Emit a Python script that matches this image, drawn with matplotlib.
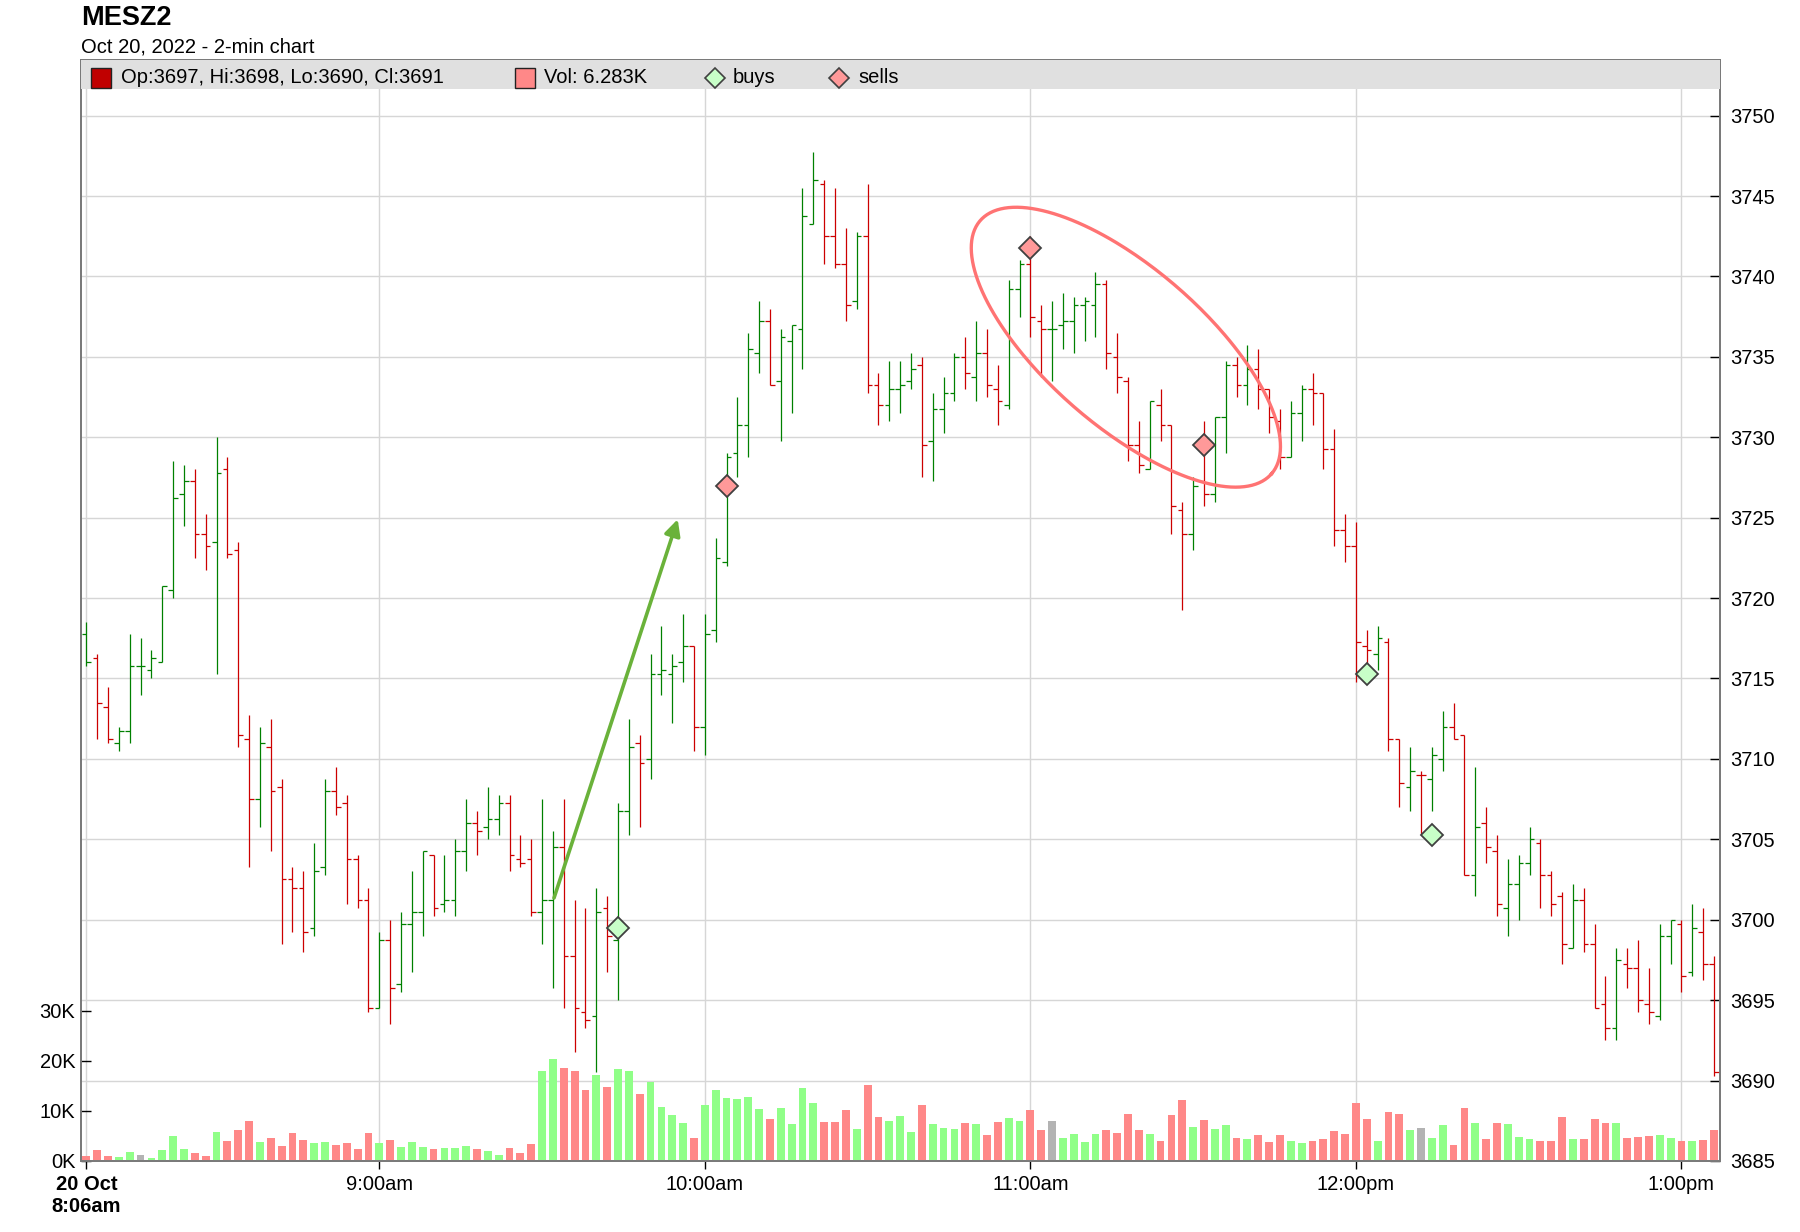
import matplotlib
matplotlib.use("Agg")
import matplotlib.pyplot as plt
from matplotlib.collections import LineCollection
from matplotlib.patches import Rectangle
import numpy as np

plt.rcParams['font.family'] = ['Liberation Sans', 'DejaVu Sans']

# MESZ2, 2-min bars from 8:06am (index 0) to 1:06pm (index 150)
opens = [3717.75, 3716.25, 3713.25, 3711.0, 3711.75, 3715.75, 3715.5, 3716.0, 3720.5, 3726.5,
         3727.25, 3724.0, 3723.5, 3728.0, 3723.0, 3711.25, 3707.5, 3710.75, 3708.25, 3702.5,
         3702.0, 3699.5, 3703.25, 3708.0, 3707.25, 3703.75, 3701.25, 3694.5, 3698.75, 3696.0,
         3699.75, 3700.5, 3704.0, 3701.0, 3701.25, 3704.25, 3706.0, 3705.75, 3706.25, 3707.25,
         3703.75, 3703.75, 3700.5, 3701.25, 3704.5, 3697.75, 3694.25, 3694.0, 3700.75, 3698.75,
         3706.75, 3711.0, 3710.0, 3715.25, 3715.25, 3716.0, 3717.0, 3712.0, 3718.0, 3722.25,
         3729.0, 3730.75, 3735.25, 3737.25, 3733.5, 3736.0, 3736.75, 3743.25, 3745.75, 3742.5,
         3740.75, 3738.5, 3742.5, 3733.25, 3732.0, 3733.0, 3733.5, 3734.5, 3729.75, 3731.75,
         3732.75, 3735.0, 3733.75, 3735.25, 3733.0, 3732.0, 3739.25, 3740.75, 3737.25, 3736.75,
         3737.0, 3737.25, 3738.25, 3738.25, 3739.5, 3735.0, 3733.5, 3729.5, 3728.0, 3732.0,
         3730.75, 3725.5, 3724.0, 3727.25, 3726.5, 3731.25, 3734.5, 3733.25, 3734.25, 3733.0,
         3731.0, 3728.75, 3731.5, 3733.0, 3732.75, 3729.25, 3724.25, 3723.25, 3717.0, 3716.5,
         3717.25, 3711.25, 3708.25, 3709.0, 3708.75, 3710.0, 3712.0, 3711.5, 3702.75, 3706.0,
         3704.25, 3700.75, 3702.25, 3703.5, 3704.75, 3702.75, 3701.5, 3698.25, 3701.25, 3698.5,
         3694.75, 3693.25, 3697.25, 3697.0, 3694.75, 3694.0, 3699.0, 3699.75, 3696.75, 3699.25,
         3697.25]
highs = [3718.5, 3716.5, 3714.5, 3712.0, 3717.75, 3717.5, 3716.75, 3720.75, 3728.5, 3728.25,
         3728.0, 3725.25, 3730.0, 3728.75, 3723.5, 3712.75, 3712.0, 3712.5, 3708.75, 3703.25,
         3703.0, 3704.75, 3708.75, 3709.5, 3707.75, 3704.0, 3702.0, 3699.25, 3700.0, 3700.5,
         3703.0, 3704.25, 3704.0, 3704.0, 3705.0, 3707.5, 3706.75, 3708.25, 3707.75, 3707.75,
         3705.25, 3705.0, 3707.5, 3705.5, 3707.5, 3701.25, 3700.75, 3702.0, 3701.5, 3707.25,
         3712.5, 3711.5, 3716.5, 3718.25, 3716.5, 3719.0, 3717.0, 3719.0, 3723.75, 3729.0,
         3732.5, 3736.5, 3738.5, 3738.0, 3736.75, 3737.0, 3745.5, 3747.75, 3746.0, 3745.5,
         3743.0, 3742.75, 3745.75, 3734.0, 3734.75, 3734.75, 3735.25, 3735.0, 3732.75, 3733.75,
         3735.25, 3736.25, 3737.25, 3736.75, 3734.5, 3739.75, 3741.0, 3742.5, 3738.25, 3738.5,
         3739.0, 3738.75, 3738.75, 3740.25, 3739.75, 3736.5, 3733.75, 3731.0, 3732.25, 3733.0,
         3730.75, 3726.0, 3727.5, 3731.0, 3731.25, 3734.75, 3735.0, 3735.75, 3735.5, 3733.0,
         3731.75, 3732.25, 3733.25, 3734.0, 3732.75, 3730.5, 3725.25, 3724.75, 3718.0, 3718.25,
         3717.5, 3711.25, 3710.75, 3709.25, 3710.75, 3713.0, 3713.5, 3711.5, 3709.5, 3707.0,
         3705.25, 3703.75, 3704.0, 3705.75, 3705.0, 3703.0, 3701.75, 3702.25, 3702.0, 3699.75,
         3696.5, 3698.25, 3698.25, 3698.75, 3697.0, 3699.75, 3700.0, 3700.0, 3701.0, 3700.75,
         3697.75]
lows = [3715.75, 3711.25, 3711.0, 3710.5, 3711.0, 3714.0, 3715.0, 3716.0, 3720.0, 3724.5,
        3722.5, 3721.75, 3715.25, 3722.5, 3710.75, 3703.25, 3705.75, 3704.25, 3698.5, 3699.25,
        3698.0, 3699.0, 3702.75, 3706.5, 3701.0, 3700.75, 3694.25, 3694.5, 3693.5, 3695.5,
        3696.75, 3699.0, 3700.25, 3700.5, 3700.25, 3703.0, 3704.0, 3705.0, 3705.25, 3703.0,
        3703.25, 3700.25, 3698.5, 3695.75, 3694.5, 3691.75, 3693.25, 3690.5, 3696.75, 3695.0,
        3705.25, 3705.75, 3708.75, 3714.0, 3712.25, 3714.75, 3710.5, 3710.25, 3717.25, 3722.0,
        3727.5, 3728.75, 3734.0, 3733.25, 3729.75, 3731.5, 3734.25, 3743.25, 3740.75, 3740.5,
        3737.25, 3738.0, 3732.75, 3730.75, 3731.0, 3731.5, 3733.0, 3727.5, 3727.25, 3730.25,
        3732.25, 3733.0, 3732.25, 3732.5, 3730.75, 3731.75, 3737.5, 3736.25, 3733.75, 3733.5,
        3735.5, 3735.25, 3736.0, 3736.25, 3734.25, 3732.75, 3728.5, 3727.75, 3728.0, 3729.75,
        3724.0, 3719.25, 3723.0, 3725.75, 3726.0, 3729.0, 3732.5, 3732.0, 3731.75, 3730.25,
        3728.0, 3728.75, 3729.75, 3730.75, 3728.0, 3723.25, 3722.25, 3714.75, 3715.25, 3715.5,
        3710.5, 3707.0, 3706.75, 3705.25, 3706.75, 3709.25, 3711.25, 3702.75, 3701.5, 3703.5,
        3700.25, 3699.0, 3700.0, 3702.75, 3700.75, 3700.25, 3697.25, 3698.25, 3698.0, 3694.5,
        3692.5, 3692.5, 3695.75, 3694.25, 3693.5, 3693.75, 3697.25, 3695.5, 3696.5, 3696.25,
        3690.25]
closes = [3716.0, 3713.5, 3711.25, 3711.75, 3715.75, 3715.75, 3716.25, 3720.75, 3726.25, 3727.25,
          3724.0, 3723.25, 3727.75, 3722.75, 3711.5, 3707.5, 3711.0, 3708.0, 3702.5, 3702.0,
          3699.25, 3703.0, 3708.0, 3707.0, 3703.75, 3701.25, 3694.5, 3698.75, 3695.75, 3699.75,
          3700.5, 3704.25, 3700.75, 3701.25, 3704.25, 3706.0, 3705.5, 3706.25, 3707.25, 3704.0,
          3703.5, 3700.5, 3701.25, 3704.5, 3697.75, 3694.5, 3693.75, 3700.5, 3699.0, 3706.75,
          3710.75, 3709.75, 3715.25, 3715.5, 3715.75, 3717.0, 3712.0, 3717.75, 3722.5, 3728.75,
          3730.75, 3735.5, 3737.25, 3733.25, 3736.25, 3737.0, 3743.75, 3746.0, 3742.5, 3740.75,
          3738.25, 3742.5, 3733.25, 3732.0, 3733.0, 3733.25, 3734.25, 3729.5, 3731.75, 3732.75,
          3735.0, 3734.0, 3735.25, 3733.25, 3732.25, 3739.25, 3740.75, 3737.5, 3736.75, 3736.75,
          3737.25, 3738.25, 3738.5, 3739.5, 3735.25, 3733.75, 3729.5, 3728.25, 3732.25, 3730.75,
          3725.75, 3724.0, 3727.0, 3726.5, 3731.25, 3734.5, 3733.25, 3734.25, 3733.0, 3731.25,
          3728.75, 3731.5, 3733.0, 3732.75, 3729.25, 3724.25, 3723.25, 3717.25, 3716.75, 3717.5,
          3711.25, 3708.5, 3709.25, 3709.0, 3710.25, 3712.0, 3711.25, 3702.75, 3705.75, 3704.5,
          3701.0, 3702.25, 3703.5, 3705.0, 3702.75, 3701.0, 3698.5, 3701.25, 3698.5, 3694.5,
          3693.25, 3697.5, 3697.0, 3695.0, 3694.25, 3699.0, 3700.0, 3696.5, 3699.5, 3697.25,
          3690.5]
# volume in thousands
volumes = [1.0, 2.2, 1.0, 0.8, 1.8, 1.2, 0.6, 2.2, 5.0, 2.4, 1.6, 1.0, 5.8, 4.0, 6.2, 8.0, 3.8, 4.6,
           3.0, 5.6, 4.2, 3.6, 3.8, 3.2, 3.6, 2.4, 5.6, 3.6, 4.2, 2.8, 3.8, 2.8, 2.4, 2.6, 2.6, 3.0,
           2.4, 2.0, 1.2, 2.6, 1.6, 3.4, 18.0, 20.4, 18.6, 18.0, 14.2, 17.2, 14.8, 18.4, 18.0, 13.4,
           15.8, 10.8, 9.2, 7.6, 4.6, 11.2, 14.2, 12.6, 12.4, 12.8,
           10.4, 8.4, 10.6, 7.4, 14.6, 11.6, 7.8, 7.8, 10.2, 6.4,
           15.2, 8.8, 8.0, 9.0, 5.8, 11.2, 7.4, 6.6, 6.4, 7.6,
           7.4, 5.2, 7.8, 8.6, 8.0, 10.2, 6.2, 8.0, 4.6, 5.4,
           3.8, 5.4, 6.2, 5.6, 9.4, 6.2, 5.4, 4.0, 9.2, 12.2,
           6.8, 8.2, 6.4, 7.2, 4.6, 4.4, 5.2, 3.8, 5.2, 4.0,
           3.6, 4.0, 4.4, 6.0, 5.4, 11.6, 8.4, 4.0, 9.8, 9.4,
           6.2, 6.6, 4.6, 7.2, 3.2, 10.6, 7.6, 4.4, 7.6, 7.4,
           4.8, 4.4, 4.0, 4.0, 8.8, 4.4, 4.4, 8.4, 7.6, 7.6,
           4.6, 4.8, 5.0, 5.2, 4.6, 4.0, 4.0, 4.2, 6.283]

buy_idx = [49, 118, 124]
buy_px = [3699.5, 3715.25, 3705.25]
sell_idx = [59, 87, 103]
sell_px = [3727.0, 3741.75, 3729.5]

tick_pos = [0, 27, 57, 87, 117, 147]
tick_lbl = ['20 Oct\n8:06am', '9:00am', '10:00am', '11:00am', '12:00pm', '1:00pm']
price_ticks = list(range(3685, 3751, 5))
vol_ticks = [0, 10, 20, 30]
vol_lbl = ['0K', '10K', '20K', '30K']

up_col = '#008000'
dn_col = '#cc0000'

fig = plt.figure(figsize=(18, 12.32), dpi=100)
rect = [0.045, 0.0577, 0.9106, 0.8936]
ax = fig.add_axes(rect)      # grid + price ticks
vx = ax.twinx()              # volume
px = ax.twinx()              # price bars

n = len(closes)
x = np.arange(n)
ylo, yhi = 3685, 3753.46
for a in (ax, px):
    a.set_ylim(ylo, yhi)
ax.set_xlim(-0.49, 150.56)
vx.set_ylim(0, 220.2)

ax.set_zorder(0)
vx.set_zorder(1)
px.set_zorder(2)
vx.patch.set_visible(False)
px.patch.set_visible(False)

# grid
ax.set_yticks(price_ticks)
ax.set_xticks(tick_pos)
ax.set_xticklabels(tick_lbl)
ax.grid(True, color='#d6d6d6', lw=1.0)
ax.yaxis.tick_right()
ax.tick_params(axis='y', direction='in', length=7, width=1, colors='black', labelsize=14.5, pad=7)
ax.tick_params(axis='x', direction='out', length=6, width=1, colors='black', labelsize=14.5, pad=4)
for lbl in ax.get_xticklabels()[:1]:
    lbl.set_fontweight('bold')

# volume bars
vcols = []
for o, c in zip(opens, closes):
    if c > o:
        vcols.append('#90ff88')
    elif c < o:
        vcols.append('#ff8888')
    else:
        vcols.append('#b3b3b3')
vx.bar(x, volumes, width=0.72, color=vcols, linewidth=0)
vx.yaxis.tick_left()
vx.set_yticks(vol_ticks)
vx.set_yticklabels(vol_lbl)
vx.tick_params(axis='y', direction='in', length=7, width=1, colors='black', labelsize=14.5, pad=4)

# OHLC bars
segs, cols = [], []
prev = None
for i in range(n):
    col = up_col if prev is None or closes[i] >= prev else dn_col
    prev = closes[i]
    segs += [[(i, lows[i]), (i, highs[i])],
             [(i - 0.43, opens[i]), (i, opens[i])],
             [(i, closes[i]), (i + 0.43, closes[i])]]
    cols += [col] * 3
px.add_collection(LineCollection(segs, colors=cols, linewidths=0.9, capstyle='butt'))
px.set_yticks([])

# trade markers
px.plot(buy_idx, buy_px, 'D', ms=11.5, mfc='#c8ffc8', mec='#404040', mew=1.3, ls='none', zorder=5)
px.plot(sell_idx, sell_px, 'D', ms=11.5, mfc='#ff9999', mec='#404040', mew=1.3, ls='none', zorder=5)

# annotations: arrow and ellipse
px.annotate('', xy=(54.5, 3724.9), xytext=(43.1, 3701.35),
            arrowprops=dict(arrowstyle='-|>', color='#6ab23a', lw=2.6, mutation_scale=24,
                            shrinkA=0, shrinkB=0))
cx, cy = px.transData.transform((95.8, 3735.6))
t = np.linspace(0, 2 * np.pi, 300)
ang = np.deg2rad(-41.0)
ex = 193 * np.cos(t)
ey = 79 * np.sin(t)
dx = ex * np.cos(ang) - ey * np.sin(ang)
dy = ex * np.sin(ang) + ey * np.cos(ang)
pts = px.transData.inverted().transform(np.column_stack([cx + dx, cy + dy]))
px.plot(pts[:, 0], pts[:, 1], color='#ff7373', lw=2.4, zorder=6)

# legend band
band_h = 29 / 1100.9
px.add_patch(Rectangle((0, 1 - band_h), 1, band_h, transform=px.transAxes,
                       fc='#e0e0e0', ec='none', zorder=10))
ly = 1 - 18 / 1100.9
sq_w, sq_h = 20 / 1639, 20 / 1100.9
px.add_patch(Rectangle((10 / 1639, ly - sq_h / 2), sq_w, sq_h, transform=px.transAxes,
                       fc='#c00000', ec='#222222', lw=1, zorder=11))
px.text(40 / 1639, ly, 'Op:3697, Hi:3698, Lo:3690, Cl:3691', transform=px.transAxes,
        fontsize=14.5, va='center', ha='left', zorder=11)
px.add_patch(Rectangle((434 / 1639, ly - sq_h / 2), sq_w, sq_h, transform=px.transAxes,
                       fc='#ff8888', ec='#222222', lw=1, zorder=11))
px.text(463 / 1639, ly, 'Vol: 6.283K', transform=px.transAxes,
        fontsize=14.5, va='center', ha='left', zorder=11)
px.plot([634 / 1639], [ly], 'D', ms=10, mfc='#c8ffc8', mec='#404040', mew=1.2,
        transform=px.transAxes, zorder=11, clip_on=False)
px.text(652 / 1639, ly, 'buys', transform=px.transAxes,
        fontsize=14.5, va='center', ha='left', zorder=11)
px.plot([758 / 1639], [ly], 'D', ms=10, mfc='#ff9999', mec='#404040', mew=1.2,
        transform=px.transAxes, zorder=11, clip_on=False)
px.text(777 / 1639, ly, 'sells', transform=px.transAxes,
        fontsize=14.5, va='center', ha='left', zorder=11)

for a in (ax, vx, px):
    for s in a.spines.values():
        s.set_color('#7a7a7a')
        s.set_linewidth(1.2)

fig.text(81 / 1800, 1 - 18 / 1232, 'MESZ2', fontsize=19.5, fontweight='bold', va='center', ha='left')
fig.text(81 / 1800, 1 - 47 / 1232, 'Oct 20, 2022 - 2-min chart', fontsize=14.5, va='center', ha='left')

fig.savefig('out.png', dpi=100)
